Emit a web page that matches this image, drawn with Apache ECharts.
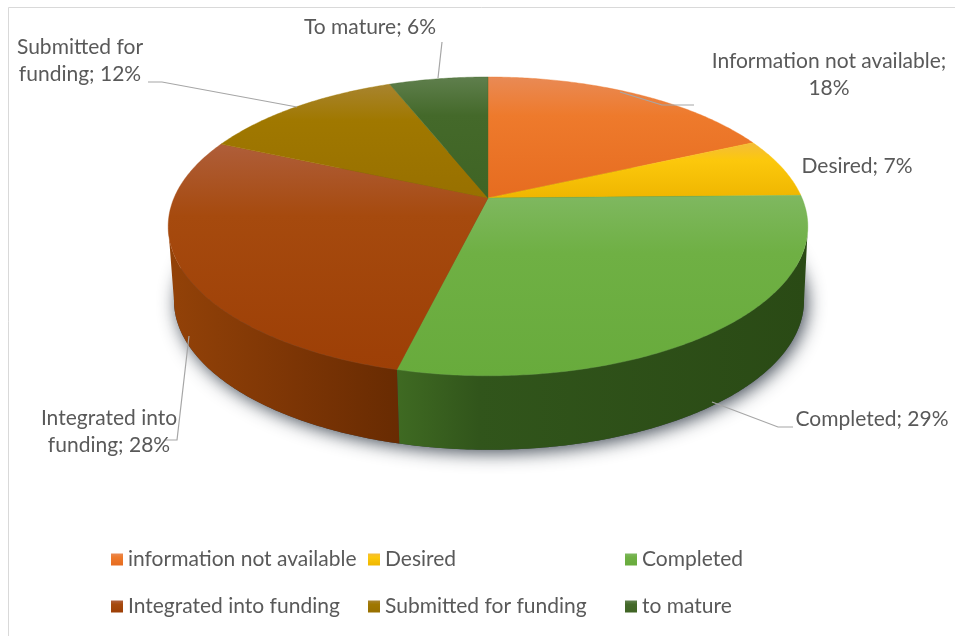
<!DOCTYPE html>
<html>
<head>
<meta charset="utf-8">
<style>html,body{margin:0;padding:0;background:#fff}#c{width:955px;height:636px}</style>
<script src="https://cdn.jsdelivr.net/npm/echarts@6/dist/echarts.min.js"></script>
</head>
<body>
<div id="c"></div>
<script>
// Data (slice sizes; labels show them rounded)
const legendNames = ["information not available", "Desired", "Completed", "Integrated into funding", "Submitted for funding", "to mature"];
const values = [18.2, 6.5, 29.1, 27.8, 12.4, 6];
const labelTexts = ["Information not available;\n18%", "Desired; 7%", "Completed; 29%", "Integrated into\nfunding; 28%", "Submitted for\nfunding; 12%", "To mature; 6%"];

// Styles and layout
const topColors = [
  ["#E98A55", "#EE7A2C", "#E66C20"],
  ["#F3BC3C", "#FCC80C", "#EFB600"],
  ["#7FB860", "#6FB044", "#68AB3C"],
  ["#AF5E3A", "#A64A0E", "#9D3F06"],
  ["#A8842F", "#A07800", "#987000"],
  ["#5F7F4D", "#44692A", "#3F6424"]
];
const sideColors = [null, null,
  [[0, "#3F6A22"], [0.2, "#31551B"], [1, "#2A4A15"]],
  [[0, "#934208"], [0.55, "#7C3505"], [1, "#682B02"]],
  null, null];
const legendPos = [[111, 549], [368, 549], [625, 549], [111, 596], [368, 596], [625, 596]];
const labelPos = [[829, 75], [857, 166], [872, 419], [109, 432], [80, 61], [370, 27]];
const leaders = [
  [[620, 92], [662, 105], [694, 105]],
  null,
  [[712, 402], [778, 427], [793, 427]],
  [[189, 336], [177, 440], [165, 440]],
  [[297, 107], [162, 82], [148, 82]],
  [[438, 78], [442, 42]]
];
const textColor = "#595959";
const fontFamily = "Lato";
const fontSize = 21;
// Perspective projection of the pie disc
const view = { cx: 488, cy: 198, a: 314, b: 144, k: 0.19, depth: 74, bottomScale: 0.985 };

const total = values.reduce((s, v) => s + v, 0);
const starts = values.map((_, i) => values.slice(0, i).reduce((s, v) => s + v, 0) / total * Math.PI * 2);
const ends = starts.map((s, i) => s + values[i] / total * Math.PI * 2);

function rimTop(t) {
  const u = Math.sin(t), v = -Math.cos(t), w = 1 - view.k * v;
  return [view.cx + view.a * u / w, view.cy + view.b * v / w];
}
function rimBottom(t) {
  const p = rimTop(t);
  return [view.cx + 1 + (p[0] - view.cx) * view.bottomScale, p[1] + view.depth];
}
function arc(fn, t0, t1) {
  const n = Math.max(2, Math.ceil((t1 - t0) / 0.01));
  const out = [];
  for (let i = 0; i <= n; i++) out.push(fn(t0 + (t1 - t0) * i / n));
  return out;
}
const tRight = Math.acos(-view.k), tLeft = Math.PI * 2 - tRight;

function topGradient(c) {
  return new echarts.graphic.LinearGradient(0, 0, 0, 1, [
    { offset: 0, color: c[0] }, { offset: 0.32, color: c[1] }, { offset: 1, color: c[2] }
  ]);
}

const topSeries = legendNames.map((name, i) => ({
  type: "custom",
  name,
  coordinateSystem: "none",
  z: 3,
  silent: true,
  itemStyle: { color: topColors[i][1] },
  data: [values[i]],
  renderItem() {
    const pts = [[view.cx, view.cy]].concat(arc(rimTop, starts[i], ends[i]));
    return {
      type: "polygon",
      shape: { points: pts },
      style: { fill: topGradient(topColors[i]), stroke: topColors[i][1], lineWidth: 0.4 }
    };
  }
}));

const sideSeries = {
  type: "custom",
  name: "side",
  coordinateSystem: "none",
  z: 2,
  silent: true,
  data: values,
  renderItem(params) {
    const i = params.dataIndex;
    const t0 = Math.max(starts[i], tRight), t1 = Math.min(ends[i], tLeft);
    if (t1 <= t0 || !sideColors[i]) return null;
    const upper = arc(rimTop, t0, t1), lower = arc(rimBottom, t0, t1).reverse();
    const stops = sideColors[i].map(s => ({ offset: s[0], color: s[1] }));
    const xs = upper.concat(lower).map(p => p[0]);
    const x0 = Math.min.apply(null, xs), x1 = Math.max.apply(null, xs);
    return {
      type: "polygon",
      shape: { points: upper.concat(lower) },
      style: { fill: new echarts.graphic.LinearGradient(x0, 0, x1, 0, stops, true) }
    };
  }
};

const shadowSeries = {
  type: "custom",
  name: "shadow",
  coordinateSystem: "none",
  z: 1,
  silent: true,
  data: [total],
  renderItem() {
    return {
      type: "polygon",
      shape: { points: arc(rimBottom, 0, Math.PI * 2) },
      style: {
        fill: "#3a4048",
        shadowBlur: 18,
        shadowOffsetX: 3,
        shadowOffsetY: 3,
        shadowColor: "rgba(45,55,68,0.9)"
      }
    };
  }
};

const graphics = [
  { type: "polyline", silent: true, z: 0, shape: { points: [[8.5, 636], [8.5, 7.5], [955, 7.5]] }, style: { stroke: "#D9D9D9", lineWidth: 1, fill: null } }
];
leaders.forEach(pts => {
  if (pts) graphics.push({ type: "polyline", silent: true, z: 5, shape: { points: pts }, style: { stroke: "#A6A6A6", lineWidth: 1.2, fill: null } });
});
labelTexts.forEach((t, i) => {
  graphics.push({
    type: "text", silent: true, z: 6,
    x: labelPos[i][0], y: labelPos[i][1],
    style: { text: t, fill: textColor, fontFamily, fontSize, lineHeight: 27, align: "center", verticalAlign: "middle" }
  });
});

const option = {
  animation: false,
  backgroundColor: "#fff",
  legend: legendNames.map((name, i) => ({
    left: legendPos[i][0], top: legendPos[i][1],
    padding: 0,
    itemWidth: 12, itemHeight: 12, itemGap: 0,
    selectedMode: false,
    textStyle: { color: textColor, fontFamily, fontSize },
    data: [{ name, icon: "rect", itemStyle: { color: topGradient(topColors[i]) } }]
  })),
  graphic: graphics,
  series: [shadowSeries, sideSeries].concat(topSeries)
};
const chart = echarts.init(document.getElementById("c"), null, { renderer: "canvas" });
chart.setOption(option);
</script>
</body>
</html>
